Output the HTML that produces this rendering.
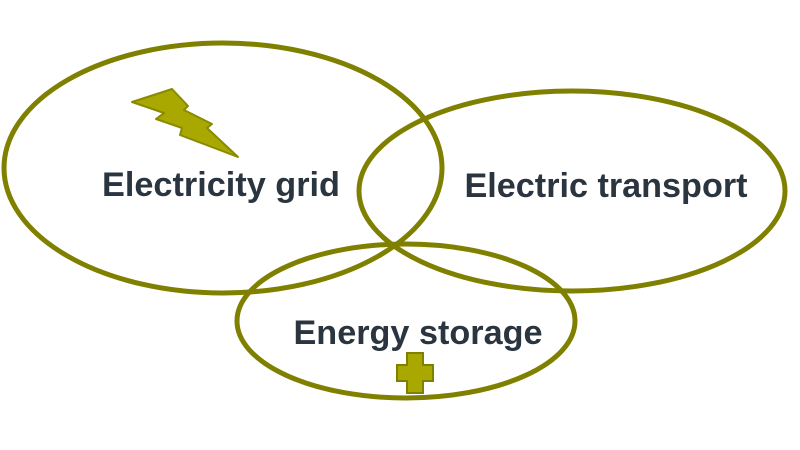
<!DOCTYPE html>
<html><head><style>
html,body{margin:0;padding:0;background:#fff;}
svg{display:block}
</style></head><body>
<svg width="800" height="450" viewBox="0 0 800 450" xmlns="http://www.w3.org/2000/svg">
<g fill="none" stroke="#808000" stroke-width="5">
<ellipse cx="223" cy="168" rx="219" ry="125"/>
<ellipse cx="572" cy="191" rx="213" ry="100"/>
<ellipse cx="406" cy="321" rx="169" ry="77"/>
</g>
<polygon points="132,102 172,89 188,106 184,110 212,124 207,128 238,157 180,135 182,128 156,119 164,113" fill="#a8a800" stroke="#8a8a00" stroke-width="2" stroke-linejoin="round"/>
<path d="M407,353 H423 V365 H433 V381 H423 V393 H407 V381 H397 V365 H407 Z" fill="#a8a800" stroke="#808000" stroke-width="2"/>
<g font-family="Liberation Sans, sans-serif" font-weight="bold" font-size="34" fill="#2b3540">
<text x="221" y="196" text-anchor="middle" textLength="238" lengthAdjust="spacingAndGlyphs">Electricity grid</text>
<text x="606" y="197" text-anchor="middle" textLength="283" lengthAdjust="spacingAndGlyphs">Electric transport</text>
<text x="418" y="344" text-anchor="middle" textLength="249" lengthAdjust="spacingAndGlyphs">Energy storage</text>
</g>
</svg>
</body></html>
